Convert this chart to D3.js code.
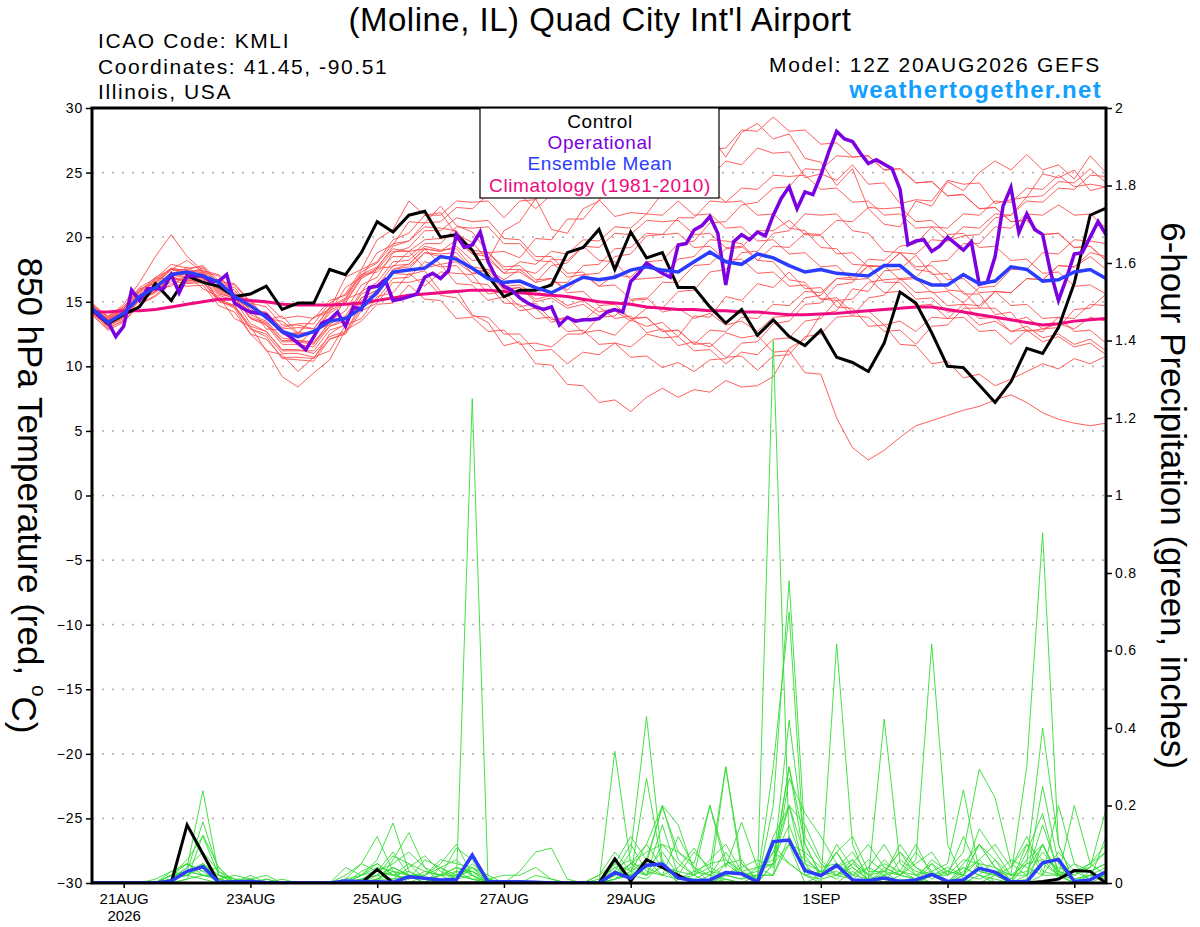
<!DOCTYPE html>
<html>
<head>
<meta charset="utf-8">
<script src="https://cdn.jsdelivr.net/npm/d3@7"></script>
<style>
  body { margin: 0; background: #fff; }
  svg { display: block; font-family: "Liberation Sans", Arial, Helvetica, sans-serif; }
</style>
</head>
<body>
<svg id="chart"></svg>
<script>
const width = 1200;
const height = 927;

// run start 12Z 20AUG2026, 6-hourly steps (operational run is 3-hourly)
const runStart = new Date(Date.UTC(2026, 7, 20, 12));
const runEnd = new Date(Date.UTC(2026, 8, 5, 12));

const tempTicks = [-30, -25, -20, -15, -10, -5, 0, 5, 10, 15, 20, 25, 30];
const precipTicks = [0, 0.2, 0.4, 0.6, 0.8, 1, 1.2, 1.4, 1.6, 1.8, 2];
const dateTicks = ["2026-08-21", "2026-08-23", "2026-08-25", "2026-08-27", "2026-08-29", "2026-09-01", "2026-09-03", "2026-09-05"];

const controlTemp = [14.4,13.3, 14.0,14.6,16.4,15.1, 17.0,16.5,16.2,15.4, 15.6,16.2,14.4,14.9, 14.9,17.5,17.1,18.8,
  21.2,20.4,21.7,22.0, 20.0,20.2,19.0,17.0, 15.4,15.9,15.9,16.3, 18.8,19.2,20.6,17.5, 20.4,18.4,18.8,16.1,
  16.1,14.6,13.35,14.4, 12.4,13.6,12.3,11.6, 12.8,10.7,10.3,9.6, 11.8,15.75,14.9,12.6, 10.0,9.9,8.55,7.2,
  8.8,11.4,11.0,13.0, 16.45,21.7,22.25];

const meanTemp = [14.5,13.4, 14.1,15.4,16.1,17.1, 17.3,17.0,16.5,15.4, 14.7,13.8,12.7,12.3, 12.7,13.5,13.7,14.5,
  15.75,17.3,17.45,17.6, 18.5,18.3,17.6,16.8, 16.5,16.6,16.1,15.7, 16.3,16.9,16.7,16.9, 17.45,17.7,17.45,17.3,
  18.1,18.85,18.1,17.9, 18.7,18.4,17.8,17.3, 17.5,17.2,17.1,17.0, 17.8,17.8,16.8,16.3, 16.3,17.1,16.4,16.6,
  17.7,17.5,16.6,16.7, 17.3,17.5,16.8];

const climoTemp = [14.2,14.2, 14.3,14.3,14.4,14.6, 14.8,15.0,15.2,15.2, 15.1,15.0,14.8,14.75, 14.75,14.75,14.8,14.9,
  15.1,15.3,15.5,15.6, 15.7,15.8,15.9,15.9, 15.8,15.7,15.6,15.5, 15.4,15.2,15.0,14.9, 14.8,14.6,14.5,14.4,
  14.4,14.3,14.3,14.2, 14.2,14.1,14.0,14.0, 14.05,14.1,14.2,14.3, 14.4,14.5,14.6,14.6, 14.4,14.2,14.0,13.8,
  13.6,13.4,13.2,13.3, 13.5,13.6,13.7];

// operational run, 3-hourly
const operationalTemp = [
  14.5,13.8,13.45,12.3,13.1,15.9,15.1,16.0,
  16.0,16.0,17.1,15.7,17.0,17.0,17.0,16.55,
  16.6,17.1,14.9,14.5,14.2,14.1,14.0,13.3,
  12.7,12.3,11.8,11.3,12.3,13.35,13.6,14.2,
  13.1,14.6,14.4,16.1,16.2,16.7,15.1,15.2,
  15.4,15.6,16.9,17.2,16.8,17.4,20.2,19.2,
  19.4,20.4,18.1,16.9,16.2,15.9,15.3,14.9,
  14.6,14.4,14.6,13.2,13.8,13.5,13.6,13.6,
  13.7,14.2,14.4,14.2,16.55,17.2,18.0,17.6,
  17.2,16.9,19.4,19.5,20.55,20.9,21.6,20.3,
  16.3,19.65,20.2,19.8,20.4,20.1,21.7,23.0,
  23.9,22.2,23.5,23.3,24.8,26.6,28.2,27.6,
  27.4,26.5,25.7,26.0,25.65,25.3,23.7,19.4,
  19.7,19.8,18.9,19.3,20.0,19.5,19.0,19.65,
  16.35,16.5,18.5,22.4,23.85,20.35,21.8,20.6,
  20.2,17.3,15.1,16.8,18.7,18.8,20.0,21.2,
  20.2];

const memberTemp = [
  [14.8,13.6, 14.5,15.8,16.9,17.5, 18.2,17.3,17.0,15.6, 15.0,13.6,13.9,12.6, 13.8,14.4,16.9,17.5, 19.8,20.6,22.8,21.7, 21.9,20.2,19.6,18.2, 20.5,21.2,23.0,20.6, 20.3,22.2,22.8,24.9, 24.6,25.8,26.9,27.8, 27.3,27.9,26.2,28.1, 28.8,27.6,28.0,26.1, 25.8,24.0,25.3,22.2, 21.0,20.8,22.8,22.4, 24.3,23.6,25.0,25.9, 25.2,26.4,25.2,25.6, 24.5,26.3,25.0],
  [14.2,13.2, 13.8,15.2,15.8,16.9, 16.6,16.8,15.2,14.7, 12.9,12.3,10.6,10.5, 10.4,12.1,12.6,14.9, 15.5,17.2,17.1,17.4, 15.8,15.9,14.0,13.4, 11.6,11.9,10.2,10.1, 8.6,8.5,7.2,7.4, 6.5,7.6,8.3,7.6, 8.2,8.0,8.9,8.4, 8.5,9.2,11.4,12.1, 14.0,14.3,16.0,15.8, 17.4,17.5,18.6,17.1, 17.2,15.6,15.6,14.0, 14.2,12.7,12.9,13.0, 14.4,14.5,15.6],
  [14.5,13.5, 14.2,15.3,16.8,16.8, 17.7,16.8,16.7,15.2, 14.5,12.9,12.8,11.7, 12.8,13.2,15.2,15.7, 17.6,17.7,18.9,17.6, 17.9,16.4,16.3,15.1, 15.4,14.3,14.5,13.4, 13.8,13.5,14.6,13.7, 13.9,12.6,12.9,11.6, 11.9,11.5,12.6,12.2, 12.4,11.1,11.2,9.5, 9.4,6.0,3.7,2.75, 3.5,4.5,5.4,5.8, 6.2,6.6,6.9,7.4, 7.8,7.2,6.4,5.9, 5.6,5.4,5.6],
  [14.0,12.9, 13.6,14.6,16.1,16.2, 17.1,16.0,15.4,13.7, 13.1,11.2,10.9,9.6, 10.7,11.2,13.2,13.7, 15.4,15.7,17.2,16.2, 17.3,17.2,17.1,15.6, 15.8,14.6,14.9,13.6, 13.8,12.6,12.8,12.4, 13.6,13.1,13.4,12.3, 13.9,13.8,15.4,15.1, 16.4,16.1,17.3,16.0, 16.1,14.6,14.5,13.1, 13.2,11.7,11.6,10.2, 10.4,9.1,9.4,8.5, 9.0,9.6,10.2,9.8, 10.6,10.2,10.8],
  [14.9,13.8, 14.8,16.5,18.5,20.2, 18.5,17.4,17.1,15.5, 15.1,13.7,13.5,12.5, 13.8,14.2,16.1,16.9, 18.8,19.4,21.2,21.1, 22.4,20.9,20.4,18.8, 18.9,18.4,19.9,19.8, 21.4,21.4,22.9,21.6, 21.9,21.8,23.4,23.4, 24.9,24.6,25.9,25.6, 26.9,26.5,26.6,24.6, 24.9,24.4,25.6,24.1, 24.2,22.6,22.9,22.8, 24.4,24.1,24.2,22.6, 22.9,23.1,24.9,24.6, 25.2,23.6,23.9],
  [14.3,13.3, 13.9,15.2,15.9,16.9, 16.7,16.9,15.1,14.5, 12.5,11.3,9.2,8.4, 9.5,10.5,12.8,13.5, 14.8,14.9,16.3,15.2, 15.1,13.7,13.8,12.7, 12.8,11.7,11.8,11.5, 12.5,12.5,13.8,13.9, 15.1,15.2,16.5,16.5, 17.8,17.9,19.1,19.2, 20.5,20.5,21.3,20.2, 20.1,18.7,18.8,17.7, 17.8,16.7,16.8,15.7, 15.8,14.9,16.1,16.2, 17.5,17.5,18.8,18.7, 19.8,19.7,19.5],
  [14.6,13.7, 14.4,15.8,16.6,17.6, 17.4,17.4,16.4,16.1, 14.6,14.1,12.6,12.5, 12.6,14.1,14.9,16.8, 17.5,18.9,18.9,19.8, 19.9,20.1,18.7,18.5, 17.2,17.3,16.5,17.8, 18.0,19.3,18.2,18.1, 16.7,16.8,16.9,18.3, 18.5,19.8,19.7,19.5, 18.2,18.1,16.7,16.5, 15.2,15.1,13.9,13.8, 12.7,12.8,11.7,13.1, 13.2,14.5,14.5,15.8, 15.7,16.8,16.7,17.8, 17.7,18.5,17.5],
  [14.4,13.4, 14.0,15.4,16.1,17.1, 17.1,17.2,16.0,15.5, 14.0,13.5,12.2,12.0, 11.9,13.3,13.9,15.8, 16.5,18.1,18.2,19.3, 19.0,19.1,17.7,17.5, 16.2,16.3,15.5,16.5, 16.5,17.8,17.9,19.1, 19.2,20.3,20.2,21.5, 21.5,22.8,22.7,22.8, 21.7,21.8,20.7,20.5, 19.2,19.1,17.9,17.8, 16.5,16.5,15.2,15.3, 14.2,14.3,13.2,13.5, 12.7,13.1,12.2,12.5, 11.7,12.1,11.2],
  [14.7,13.9, 14.6,16.0,16.4,17.5, 17.5,17.8,16.6,16.4, 15.0,14.9,13.7,13.9, 13.7,15.1,15.5,17.1, 17.3,18.5,18.5,19.5, 19.5,20.8,20.7,20.8, 19.5,19.5,18.2,18.1, 16.9,17.1,16.2,16.3, 15.2,15.3,14.2,14.5, 13.7,14.1,13.2,13.5, 12.7,13.8,13.9,15.3, 15.5,16.8,16.9,18.3, 18.2,19.3,19.5,20.8, 20.7,21.8,21.7,22.8, 22.7,23.8,23.7,24.8, 23.9,24.1,23.9],
  [14.1,13.1, 13.7,15.1,15.7,16.8, 16.6,16.7,15.5,15.1, 13.3,12.7,11.2,11.2, 11.2,12.8,13.2,15.1, 15.7,17.5,17.9,19.1, 18.9,19.8,18.7,18.8, 17.7,17.8,16.7,16.8, 15.7,15.8,14.7,14.8, 13.7,13.8,12.7,12.8, 11.7,11.8,10.7,10.8, 9.7,10.8,10.9,12.3, 12.5,13.8,13.9,15.3, 15.5,16.8,16.9,18.1, 18.2,19.5,19.5,20.8, 20.7,21.8,21.7,22.5, 21.7,21.8,20.7],
  [14.5,13.6, 14.3,15.6,16.2,17.3, 17.1,17.2,15.8,15.4, 13.7,13.3,11.9,11.9, 11.7,13.5,14.3,16.3, 16.9,18.8,19.2,20.5, 20.5,21.5,21.2,21.3, 19.9,19.8,18.5,18.5, 17.2,17.3,16.2,17.1, 16.9,18.1,18.2,19.5, 19.7,21.1,21.2,22.5, 22.7,23.8,23.9,25.3, 25.2,26.3,26.2,26.3, 25.2,25.3,24.2,24.3, 23.2,23.3,22.2,22.3, 21.2,21.3,20.2,20.3, 19.2,19.3,18.2],
  [14.2,13.0, 13.5,14.8,15.5,16.6, 16.4,16.5,15.0,14.7, 13.1,12.7,11.3,11.3, 11.0,12.3,12.7,14.5, 15.2,16.8,16.9,18.1, 17.7,17.8,16.5,16.3, 14.9,14.8,13.7,13.8, 12.7,12.8,11.7,11.8, 10.7,10.8,9.9,10.3, 9.6,10.5,10.6,11.8, 11.9,13.3,13.5,14.8, 14.9,16.3,16.5,17.8, 17.7,18.8,17.7,17.8, 16.7,16.8,15.7,15.8, 14.7,14.8,13.7,13.8, 12.7,12.8,11.8],
  [14.8,13.8, 14.6,16.1,16.8,17.9, 17.6,17.7,16.3,15.9, 14.3,13.9,12.5,12.6, 12.6,14.3,15.0,16.9, 17.6,19.3,19.7,20.8, 20.7,20.5,19.0,18.8, 17.5,17.5,16.5,16.8, 15.9,17.1,17.2,18.5, 18.7,20.1,20.2,20.3, 19.2,19.3,18.2,18.3, 17.2,17.3,16.2,16.3, 15.2,15.3,14.2,14.3, 13.2,13.5,12.7,13.8, 13.7,14.8,14.7,15.8, 15.7,16.8,16.7,17.8, 17.7,18.8,18.5],
  [14.6,13.5, 14.1,15.5,16.3,17.5, 17.3,17.4,15.9,15.5, 14.1,14.1,13.0,13.3, 13.3,14.9,15.6,17.5, 18.1,19.8,20.3,21.7, 21.7,22.8,22.7,22.8, 21.5,22.8,22.9,24.3, 24.5,25.8,25.9,27.1, 25.9,25.8,24.7,24.8, 23.7,23.8,22.7,23.8, 23.7,24.8,24.7,24.8, 23.7,23.8,22.7,22.8, 21.7,21.8,20.7,20.8, 19.7,20.1,20.2,21.5, 21.7,23.1,23.2,24.3, 24.2,25.3,24.2],
  [14.3,13.4, 14.0,15.3,16.0,17.1, 16.8,17.0,15.6,15.3, 13.8,13.4,12.0,12.0, 11.8,13.1,13.5,15.3, 15.9,17.3,17.5,18.8, 18.7,18.8,17.5,17.3, 16.0,16.1,15.0,15.3, 14.5,14.8,13.9,14.3, 13.5,14.5,14.5,15.8, 15.9,17.3,17.5,18.8, 18.9,20.3,20.5,21.8, 21.7,21.8,20.5,20.3, 18.9,18.8,17.5,17.3, 15.9,15.8,14.5,14.5, 13.5,13.8,12.9,13.3, 12.9,13.8,13.5],
  [14.6,13.7, 14.5,15.9,16.7,17.6, 17.2,17.6,16.5,16.3, 14.9,14.6,13.2,13.2, 12.9,14.5,15.2,17.1, 17.7,19.1,18.9,19.1, 17.9,18.1,17.2,17.5, 16.7,17.5,17.2,18.3, 18.2,19.3,19.2,20.3, 20.2,21.3,21.2,21.3, 20.2,20.3,19.2,19.3, 18.2,19.3,19.2,20.3, 20.2,21.3,21.2,22.3, 22.2,22.3,21.2,21.3, 20.2,20.3,19.2,19.3, 18.2,18.3,17.2,17.3, 16.2,16.3,15.6],
  [14.2,13.2, 13.8,15.1,15.8,16.8, 16.5,16.6,15.1,14.6, 12.9,12.5,11.0,11.0, 10.7,12.1,12.5,14.3, 14.9,16.5,16.5,16.8, 15.5,15.3,13.9,13.8, 12.5,12.5,11.2,11.3, 10.2,11.1,10.9,11.8, 11.5,12.5,12.2,12.3, 11.2,11.3,10.2,11.1, 10.9,12.1,12.2,13.5, 13.7,15.1,15.2,16.5, 16.7,16.8,15.7,15.8, 14.7,14.8,13.7,13.8, 12.7,12.8,11.9,12.3, 11.5,11.8,10.9],
  [14.4,13.6, 14.3,15.7,16.5,17.5, 17.1,17.3,16.0,15.7, 14.3,14.2,12.9,13.0, 12.9,14.6,15.3,17.3, 18.0,19.5,19.7,21.1, 21.2,22.3,22.2,23.3, 23.2,23.3,22.2,23.3, 23.2,24.3,24.2,25.5, 25.7,26.8,26.7,26.8, 25.7,26.8,26.9,28.3, 28.2,29.3,28.2,28.3, 27.2,27.3,26.2,26.3, 25.2,25.3,24.2,24.3, 23.2,23.3,22.2,22.3, 21.2,21.3,20.2,20.3, 19.2,19.3,18.2],
  [14.5,13.5, 14.2,15.5,16.2,17.2, 16.9,17.1,15.7,15.3, 13.7,13.2,11.7,11.7, 11.5,13.1,13.7,15.6, 16.2,17.8,17.9,19.1, 18.9,19.3,18.2,18.3, 17.2,18.1,17.9,18.9, 18.7,19.8,19.7,20.8, 20.7,21.8,21.7,22.8, 21.7,21.8,20.7,20.8, 19.7,19.8,18.7,18.8, 17.7,17.8,16.7,16.8, 15.7,15.8,14.7,14.8, 13.7,13.8,12.7,12.8, 11.7,12.8,12.7,13.8, 13.7,14.8,14.7],
  [14.0,12.8, 13.4,14.8,15.4,16.4, 16.2,16.3,14.7,14.2, 12.5,12.1,10.7,10.7, 10.6,12.5,13.3,15.3, 15.9,17.5,17.7,18.8, 18.5,18.5,17.2,17.1, 15.9,16.1,15.2,15.5, 14.7,15.1,14.2,14.5, 13.7,13.8,12.7,12.8, 11.7,12.8,12.7,13.8, 13.7,14.8,14.7,15.8, 15.7,16.8,16.7,17.8, 17.7,18.8,18.7,19.8, 19.7,20.8,20.7,21.8, 21.7,22.8,22.7,23.8, 23.7,24.8,24.7]
];

const controlPrecip = [0,0, 0,0,0,0, 0.15,0.075,0,0, 0,0,0,0, 0,0,0,0, 0.035,0,0,0, 0,0,0,0, 0,0,0,0,
  0,0,0,0.062, 0.005,0.06,0.04,0.02, 0,0,0,0, 0,0,0,0, 0,0,0,0, 0,0,0,0, 0,0,0,0, 0,0,0.004,0.01, 0.032,0.03,0];

const meanPrecip = [0,0, 0,0,0,0.005, 0.03,0.042,0.002,0.003, 0.004,0.001,0,0, 0,0,0.005,0.004, 0.003,0.002,0.016,0.012,
  0.008,0.009,0.072,0.003, 0.003,0.003,0.002,0, 0,0,0,0.027, 0.012,0.046,0.049,0.013, 0.006,0.008,0.027,0.024,
  0.003,0.107,0.111,0.032, 0.019,0.046,0.008,0.006, 0.013,0.004,0.008,0.022, 0.004,0.008,0.038,0.028,
  0.003,0.003,0.052,0.061, 0.004,0.008,0.029];

const memberPrecip = [
  [0,0, 0,0,0,0.02, 0.05,0.03,0,0, 0,0,0,0, 0,0,0,0.01, 0.03,0.02,0.05,0.01, 0.02,0,1.25,0, 0,0,0,0, 0,0,0,0.02, 0.05,0.1,0.04,0, 0,0.02,0.01,0, 0,0.05,0.2,0.02, 0,0,0.03,0, 0,0.01,0,0.05, 0,0,0.02,0, 0,0,0.1,0.02, 0,0.01,0.03],
  [0,0, 0,0,0,0.01, 0.03,0.05,0.01,0, 0,0,0,0, 0,0,0,0, 0.01,0.04,0.02,0, 0,0.02,0.04,0, 0,0,0,0, 0,0,0,0.01, 0.02,0.04,0.08,0.02, 0,0,0.05,0.02, 0,1.40,0.1,0, 0.02,0.08,0.01,0, 0.03,0,0,0.02, 0,0.05,0.1,0.04, 0,0,0.02,0.2, 0.05,0,0],
  [0,0, 0,0,0,0.02, 0.06,0.12,0.02,0, 0,0,0.01,0, 0,0,0,0, 0,0.06,0.13,0.04, 0,0.02,0.03,0.01, 0,0,0,0, 0,0,0,0.34, 0.05,0.02,0.06,0, 0,0,0.01,0, 0,0.2,0.78,0.12, 0.05,0.02,0.06,0, 0,0.02,0.01,0, 0,0,0.05,0, 0,0.05,0.4,0.1, 0,0.02,0.01],
  [0,0, 0,0,0,0.01, 0.04,0.08,0.03,0, 0.02,0,0,0, 0,0,0,0.02, 0.05,0.02,0.01,0.03, 0.02,0.09,0.06,0, 0,0,0,0, 0,0,0,0.02, 0.08,0.43,0.05,0.02, 0,0,0.02,0.05, 0.01,0.3,0.7,0.05, 0,0.617,0.1,0, 0.02,0,0,0.02, 0,0.04,0.02,0.06, 0,0.01,0.25,0.05, 0,0.01,0.02],
  [0,0, 0,0,0,0.03, 0.05,0.02,0.01,0.02, 0.01,0,0,0, 0,0,0.02,0.05, 0.03,0.08,0.02,0, 0.04,0.02,0.01,0, 0,0,0,0, 0,0,0.02,0.08, 0.03,0.1,0.2,0.06, 0.02,0,0.3,0.03, 0,0.05,0.42,0.1, 0.02,0.03,0.01,0, 0.04,0.02,0.06,0.617, 0.1,0.01,0,0.02, 0,0.08,0.18,0.02, 0,0,0.02],
  [0,0, 0,0,0,0.02, 0.02,0.04,0.01,0, 0,0,0,0, 0,0,0.01,0.05, 0.12,0.03,0,0.02, 0.05,0.1,0.02,0, 0,0,0,0, 0,0,0.02,0.05, 0.12,0.06,0.02,0.04, 0.09,0.03,0,0, 0.02,0.02,0.27,0.18, 0.12,0.05,0.02,0.01, 0.423,0.05,0.02,0, 0,0.03,0.06,0.02, 0,0.1,0.06,0.02, 0,0.01,0.12],
  [0,0, 0,0,0,0, 0.03,0.158,0.03,0.01, 0,0,0,0, 0,0,0,0.02, 0.06,0.155,0.03,0.01, 0,0.03,0.03,0, 0,0,0,0, 0,0,0,0.03, 0.02,0.05,0.2,0.15, 0.03,0.02,0.05,0.06, 0,0.1,0.05,0.02, 0.03,0.01,0.05,0.02, 0,0.06,0.03,0.02, 0,0.02,0.1,0.04, 0.02,0.3,0.904,0.1, 0,0.03,0.05],
  [0,0, 0,0,0,0.01, 0.04,0.238,0.02,0.01, 0,0.01,0,0, 0,0,0.04,0.02, 0.03,0.02,0.01,0.06, 0.04,0.01,0.04,0.01, 0,0,0.02,0.01, 0,0,0,0.04, 0.06,0.02,0.04,0.01, 0.02,0.2,0.06,0.03, 0.01,0.08,0.2,0.15, 0.06,0.02,0.01,0.04, 0.02,0.1,0.04,0.01, 0.03,0.08,0.294,0.22, 0.05,0.02,0.15,0.03, 0.01,0.02,0.01],
  [0,0, 0,0,0,0.02, 0.03,0.02,0.01,0, 0.01,0.02,0,0, 0,0,0,0, 0.03,0.05,0.08,0.04, 0.02,0.04,0.02,0, 0,0,0,0, 0,0,0,0.02, 0.05,0.08,0.1,0.05, 0.02,0.04,0.3,0.05, 0.01,0.12,0.2,0.07, 0.02,0.1,0.04,0.01, 0.06,0.02,0.08,0.03, 0,0.02,0.1,0.06, 0.02,0.05,0.06,0.04, 0.02,0.05,0.08],
  [0,0, 0,0,0,0.01, 0.02,0.05,0.02,0, 0,0,0,0, 0,0,0,0.01, 0.02,0.01,0.04,0.07, 0.03,0.01,0.02,0, 0,0,0,0, 0,0,0,0.01, 0.03,0.02,0.1,0.08, 0.05,0.2,0.04,0.157, 0.04,0.06,0.15,0.04, 0.02,0.08,0.12,0.03, 0.03,0.08,0.02,0.05, 0.02,0.04,0.02,0.01, 0,0.02,0.08,0.03, 0.02,0.04,0.19],
  [0,0, 0,0,0,0, 0.01,0.124,0.04,0, 0,0.01,0,0, 0,0,0,0, 0.01,0.03,0.02,0.02, 0.06,0.05,0.04,0.02, 0,0,0,0, 0,0,0,0.05, 0.03,0.06,0.196,0.08, 0.04,0,0.02,0.04, 0.06,0.04,0.3,0.05, 0.03,0.02,0.05,0.1, 0.04,0.02,0.05,0.08, 0.02,0.12,0.03,0.02, 0.04,0.12,0.03,0.02, 0.2,0.05,0.02],
  [0,0, 0,0,0,0.01, 0.02,0.01,0,0, 0,0,0,0, 0,0,0,0.01, 0.02,0.04,0.02,0, 0.02,0.03,0.01,0.01, 0.02,0.02,0.04,0.01, 0,0,0,0.02, 0.04,0.02,0.15,0.02, 0.08,0.04,0.02,0.01, 0.04,0.02,0.12,0.03, 0.02,0.04,0.08,0.02, 0.03,0.02,0.01,0.06, 0.03,0.02,0.14,0.08, 0.02,0.03,0.1,0.01, 0.03,0.04,0.08],
  [0,0, 0,0,0.01,0.03, 0.02,0.05,0.01,0, 0,0,0,0, 0,0,0,0.03, 0.05,0.02,0.03,0.01, 0.02,0.02,0.01,0, 0,0,0,0, 0,0,0.01,0.04, 0.02,0.27,0.04,0.03, 0.02,0.06,0.1,0.03, 0.04,0.05,0.3,0.1, 0.02,0.08,0.02,0.04, 0.1,0.03,0.02,0.03, 0.05,0.24,0.03,0.02, 0.06,0.04,0.02,0.08, 0.03,0.01,0.02],
  [0,0, 0,0,0,0.02, 0.03,0.02,0.02,0.01, 0.01,0,0,0, 0,0,0,0, 0.02,0.07,0.05,0.03, 0.02,0.04,0.03,0, 0,0.03,0.08,0.09, 0.01,0,0,0.01, 0.05,0.04,0.02,0.12, 0.04,0.02,0.08,0.02, 0.02,0.02,0.1,0.08, 0.04,0.05,0.02,0.06, 0.03,0.08,0.04,0.02, 0.03,0.02,0.06,0.1, 0.04,0.1,0.02,0.02, 0.05,0.03,0.05],
  [0,0, 0,0,0,0, 0.01,0.02,0.01,0, 0,0,0,0, 0,0,0,0, 0.01,0.01,0.02,0.02, 0.04,0.06,0.02,0, 0,0,0,0, 0,0,0,0.01, 0.02,0.01,0.05,0.02, 0.01,0.03,0.02,0.01, 0.02,0.08,0.05,0.02, 0.01,0.02,0.04,0.01, 0.02,0.03,0.01,0.02, 0.04,0.02,0.01,0.03, 0.02,0.02,0.05,0.02, 0.01,0.02,0.04],
  [0,0, 0,0,0,0.02, 0.05,0.03,0.04,0, 0,0,0,0, 0,0,0.01,0.02, 0.04,0.03,0.02,0.01, 0,0.01,0.05,0.01, 0,0,0,0, 0,0,0,0.03, 0.1,0.03,0.02,0.01, 0.03,0.05,0.06,0.02, 0.03,0.05,0.1,0.06, 0.03,0.04,0.06,0.02, 0.05,0.03,0.1,0.02, 0.02,0.06,0.05,0.04, 0.01,0.06,0.1,0.02, 0.03,0.05,0.1]
];

const plotLeft = 92, plotRight = 1106, plotTop = 108, plotBottom = 883;

const svg = d3.select("#chart").attr("width", width).attr("height", height);

const x = d3.scaleUtc().domain([runStart, runEnd]).range([plotLeft, plotRight]);
const yT = d3.scaleLinear().domain([-30, 30]).range([plotBottom, plotTop]);
const yP = d3.scaleLinear().domain([0, 2]).range([plotBottom, plotTop]);

const timeAt = (i, hours) => new Date(runStart.getTime() + i * hours * 3600000);

svg.append("clipPath").attr("id", "plot-clip")
  .append("rect").attr("x", plotLeft).attr("y", plotTop)
  .attr("width", plotRight - plotLeft).attr("height", plotBottom - plotTop);

// dotted grid at the temperature ticks
svg.append("g")
  .selectAll("line")
  .data(tempTicks.slice(1, -1))
  .enter()
  .append("line")
  .attr("x1", plotLeft).attr("x2", plotRight)
  .attr("y1", d => yT(d)).attr("y2", d => yT(d))
  .attr("stroke", "#b4b4b4")
  .attr("stroke-width", 1.6)
  .attr("stroke-dasharray", "2,8");

const plot = svg.append("g").attr("clip-path", "url(#plot-clip)");

const tempLine = d3.line().x((d, i) => x(timeAt(i, 6))).y(d => yT(d));
const tempLine3h = d3.line().x((d, i) => x(timeAt(i, 3))).y(d => yT(d));
const precipLine = d3.line().x((d, i) => x(timeAt(i, 6))).y(d => yP(d));

plot.selectAll(".member-t")
  .data(memberTemp)
  .enter()
  .append("path")
  .attr("class", "member-t")
  .attr("d", tempLine)
  .attr("fill", "none")
  .attr("stroke", "#ff4d4d")
  .attr("stroke-width", 0.9);

plot.selectAll(".member-p")
  .data(memberPrecip)
  .enter()
  .append("path")
  .attr("class", "member-p")
  .attr("d", precipLine)
  .attr("fill", "none")
  .attr("stroke", "#33dd33")
  .attr("stroke-width", 0.9);

plot.append("path").attr("d", tempLine(climoTemp))
  .attr("fill", "none").attr("stroke", "#ee0a80").attr("stroke-width", 3);

plot.append("path").attr("d", tempLine(controlTemp))
  .attr("fill", "none").attr("stroke", "#000").attr("stroke-width", 3);

plot.append("path").attr("d", precipLine(controlPrecip))
  .attr("fill", "none").attr("stroke", "#000").attr("stroke-width", 3);

plot.append("path").attr("d", tempLine3h(operationalTemp))
  .attr("fill", "none").attr("stroke", "#7d00e0").attr("stroke-width", 3.5);

plot.append("path").attr("d", tempLine(meanTemp))
  .attr("fill", "none").attr("stroke", "#2b3cff").attr("stroke-width", 3.5);

plot.append("path").attr("d", precipLine(meanPrecip))
  .attr("fill", "none").attr("stroke", "#2b3cff").attr("stroke-width", 3.5);

// axes
const yAxisLeft = d3.axisLeft(yT).tickValues(tempTicks).tickSize(6).tickPadding(3).tickFormat(d3.format("d"));
const yAxisRight = d3.axisRight(yP).tickValues(precipTicks).tickSize(6).tickPadding(3).tickFormat(d => d3.format("~g")(d));
const xAxis = d3.axisBottom(x)
  .tickValues(dateTicks.map(s => new Date(s + "T00:00:00Z")))
  .tickSize(5).tickPadding(5)
  .tickFormat(d => d3.utcFormat("%-d")(d) + d3.utcFormat("%b")(d).toUpperCase());

const gl = svg.append("g").attr("transform", `translate(${plotLeft},0)`).call(yAxisLeft);
const gr = svg.append("g").attr("transform", `translate(${plotRight},0)`).call(yAxisRight);
const gx = svg.append("g").attr("transform", `translate(0,${plotBottom})`).call(xAxis);

[gl, gr, gx].forEach(g => {
  g.select(".domain").remove();
  g.selectAll(".tick line").attr("stroke", "#000").attr("stroke-width", 1.5);
  g.selectAll(".tick text").attr("fill", "#000").style("font-size", "14px")
    .style("letter-spacing", "0.8px")
    .style("font-family", '"Liberation Sans", Arial, sans-serif');
});
gx.selectAll(".tick text").style("font-size", "15px").style("letter-spacing", "0px");
gx.select(".tick text").append("tspan").attr("x", 0).attr("dy", "1.15em").text("2026");

// frame
svg.append("rect")
  .attr("x", plotLeft).attr("y", plotTop)
  .attr("width", plotRight - plotLeft).attr("height", plotBottom - plotTop)
  .attr("fill", "none").attr("stroke", "#000").attr("stroke-width", 3);

// legend
const legendItems = [
  { label: "Control", color: "#000" },
  { label: "Operational", color: "#7d00e0" },
  { label: "Ensemble Mean", color: "#2b3cff" },
  { label: "Climatology (1981-2010)", color: "#ee0a80" }
];
const legend = svg.append("g");
legend.append("rect").attr("x", 480).attr("y", 108).attr("width", 239).attr("height", 90)
  .attr("fill", "#fff").attr("stroke", "#000").attr("stroke-width", 1.2);
legend.selectAll("text")
  .data(legendItems)
  .enter()
  .append("text")
  .attr("x", 600)
  .attr("y", (d, i) => 128 + i * 21.2)
  .attr("text-anchor", "middle")
  .attr("fill", d => d.color)
  .style("font-size", "19px")
  .style("letter-spacing", "0.6px")
  .text(d => d.label);

// titles
svg.append("text").attr("x", 600).attr("y", 31).attr("text-anchor", "middle")
  .style("font-size", "33px").style("letter-spacing", "0.5px")
  .text("(Moline, IL) Quad City Int'l Airport");

const info = ["ICAO Code: KMLI", "Coordinates: 41.45, -90.51", "Illinois, USA"];
svg.selectAll(".info")
  .data(info)
  .enter()
  .append("text")
  .attr("class", "info")
  .attr("x", 98)
  .attr("y", (d, i) => 48 + i * 25.5)
  .style("font-size", "21px")
  .style("letter-spacing", "1.6px")
  .text(d => d);

svg.append("text").attr("x", 1101).attr("y", 72).attr("text-anchor", "end")
  .style("font-size", "21px").style("letter-spacing", "1.7px")
  .text("Model: 12Z 20AUG2026 GEFS");
svg.append("text").attr("x", 1102).attr("y", 98).attr("text-anchor", "end")
  .style("font-size", "24px").style("font-weight", "bold").style("letter-spacing", "1.3px")
  .attr("fill", "#12a0ff")
  .text("weathertogether.net");

// axis titles
const leftTitle = svg.append("text")
  .attr("transform", `translate(31,${(plotTop + plotBottom) / 2}) rotate(90)`)
  .attr("text-anchor", "middle")
  .attr("dominant-baseline", "central")
  .style("font-size", "35px");
leftTitle.append("tspan").text("850 hPa Temperature (red, ");
leftTitle.append("tspan").attr("dy", "-0.45em").style("font-size", "21px").text("o");
leftTitle.append("tspan").attr("dy", "0.45em").text("C)");

svg.append("text")
  .attr("transform", `translate(1173,${(plotTop + plotBottom) / 2}) rotate(90)`)
  .attr("text-anchor", "middle")
  .attr("dominant-baseline", "central")
  .style("font-size", "35px")
  .text("6-hour Precipitation (green, inches)");
</script>
</body>
</html>
